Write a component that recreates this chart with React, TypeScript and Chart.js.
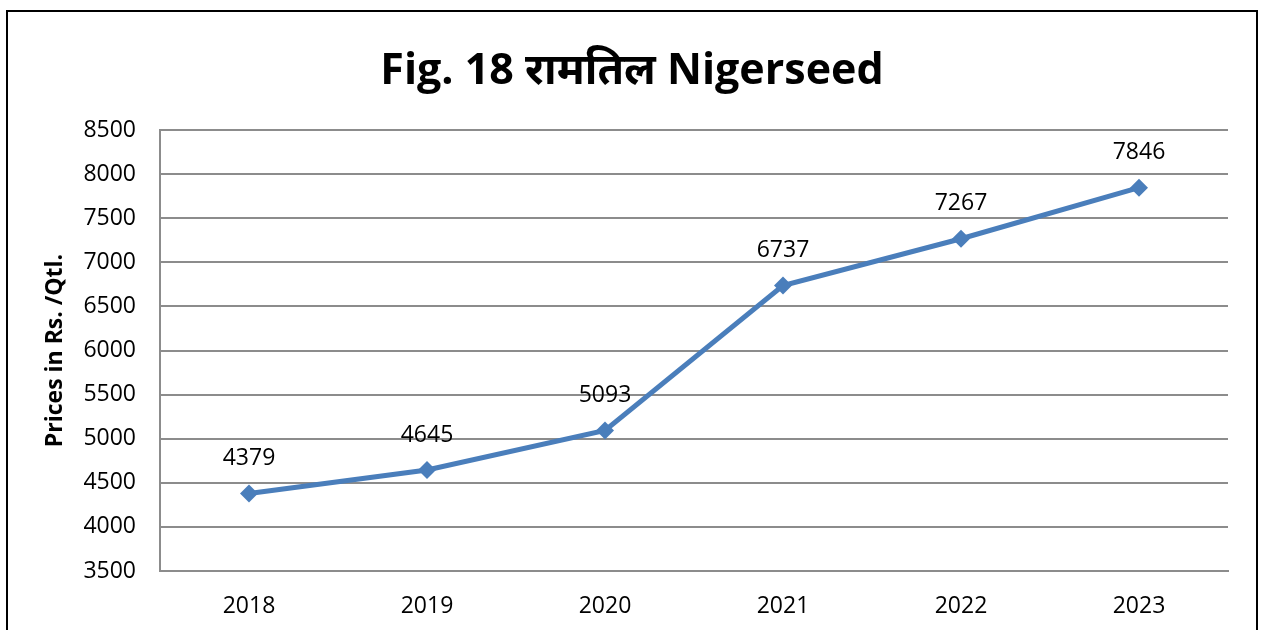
import React, { useEffect, useRef } from "react";
import { Chart, registerables } from "chart.js";

Chart.register(...registerables);

const years = ["2018", "2019", "2020", "2021", "2022", "2023"];
const prices = [4379, 4645, 5093, 6737, 7267, 7846];
const yTicks = { min: 3500, max: 8500, step: 500 };
const titleText = "Fig. 18 रामतिल Nigerseed";
const yTitle = "Prices in Rs. /Qtl.";

const FONT = "'Open Sans', 'Noto Sans', sans-serif";

const framePlugin = {
  id: "frame",
  beforeDraw(chart: any) {
    const ctx = chart.ctx;
    ctx.save();
    ctx.fillStyle = "#ffffff";
    ctx.fillRect(0, 0, chart.width, chart.height);
    ctx.strokeStyle = "#000000";
    ctx.lineWidth = 2;
    ctx.beginPath();
    ctx.moveTo(7, chart.height);
    ctx.lineTo(7, 11);
    ctx.lineTo(1257, 11);
    ctx.lineTo(1257, chart.height);
    ctx.stroke();
    ctx.fillStyle = "#000000";
    ctx.font = `bold 43px ${FONT}`;
    ctx.textAlign = "center";
    ctx.textBaseline = "alphabetic";
    ctx.fillText(titleText, 632, 84);
    ctx.restore();
  },
};

const labelPlugin = {
  id: "valueLabels",
  afterDatasetsDraw(chart: any) {
    const ctx = chart.ctx;
    const meta = chart.getDatasetMeta(0);
    ctx.save();
    ctx.fillStyle = "#000000";
    ctx.font = `23px ${FONT}`;
    ctx.textAlign = "center";
    ctx.textBaseline = "middle";
    meta.data.forEach((pt: any, i: number) => {
      ctx.fillText(String(prices[i]), pt.x, pt.y - 35);
    });
    ctx.restore();
  },
};

export default function App() {
  const ref = useRef<HTMLCanvasElement | null>(null);
  useEffect(() => {
    if (!ref.current) return;
    const chart = new Chart(ref.current, {
      type: "line",
      data: {
        labels: years,
        datasets: [
          {
            data: prices,
            borderColor: "#4A7EBB",
            backgroundColor: "#4A7EBB",
            borderWidth: 5,
            pointStyle: "rectRot",
            pointRadius: 9,
            pointBorderWidth: 0,
            tension: 0,
          },
        ],
      },
      options: {
        responsive: false,
        animation: false,
        layout: { padding: { top: 130, right: 34, bottom: 0, left: 0 } },
        plugins: {
          legend: { display: false },
          tooltip: { enabled: false },
          title: { display: false },
        },
        scales: {
          x: {
            offset: true,
            grid: { display: false, drawTicks: false },
            border: { display: true, color: "#8c8c8c", width: 2 },
            ticks: {
              color: "#000000",
              font: { family: FONT, size: 23 },
              padding: 22,
              maxRotation: 0,
            },
            afterFit(scale: any) {
              scale.height = 59;
            },
          },
          y: {
            min: yTicks.min,
            max: yTicks.max,
            grid: { color: "#8c8c8c", lineWidth: 2, drawTicks: false },
            border: { display: true, color: "#8c8c8c", width: 2 },
            ticks: {
              stepSize: yTicks.step,
              color: "#000000",
              font: { family: FONT, size: 23 },
              padding: 24,
              callback: (v: any) => String(v),
            },
            title: {
              display: true,
              text: yTitle,
              color: "#000000",
              font: { family: FONT, size: 23, weight: "bold" },
              padding: { top: 42, bottom: 0 },
            },
            afterFit(scale: any) {
              scale.width = 160;
            },
          },
        },
      },
      plugins: [framePlugin, labelPlugin],
    });
    return () => chart.destroy();
  }, []);
  return (
    <div style={{ position: "fixed", left: 0, top: 0, width: 1262, height: 630, background: "#fff" }}>
      <canvas ref={ref} width={1262} height={630} style={{ display: "block" }} />
    </div>
  );
}
